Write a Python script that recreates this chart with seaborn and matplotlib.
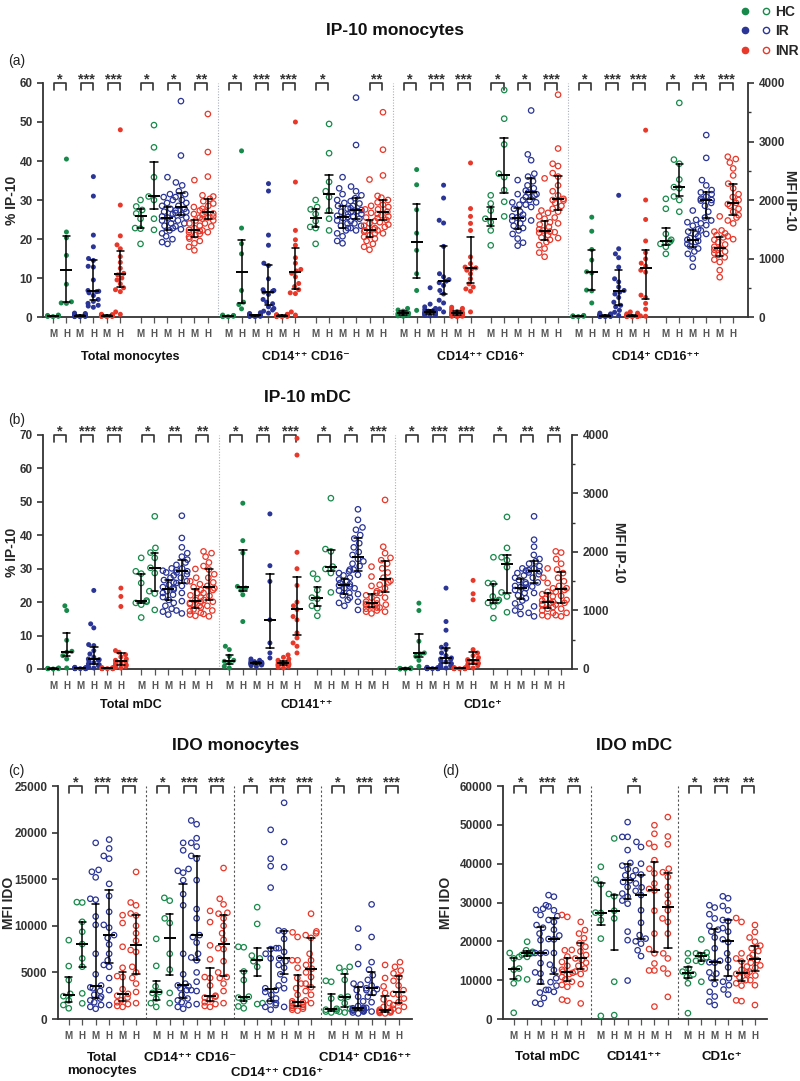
import matplotlib
matplotlib.use("Agg")
import pandas as pd
import seaborn as sns
import matplotlib.pyplot as plt
from matplotlib.lines import Line2D
from matplotlib.legend_handler import HandlerTuple
from matplotlib.ticker import MultipleLocator
from matplotlib.transforms import blended_transform_factory

GROUPS = ["HC", "IR", "INR"]
COLORS = ["#17894a", "#2a3596", "#e8382a"]
# every block below: columns HC M, HC H, IR M, IR H, INR M, INR H

# (a) IP-10 monocytes, % IP-10 (filled) and MFI IP-10 (open)
a_tot_pct = [
    [0.1, 0.2, 0.3, 0.2, 0.4, 0.3, 0.5, 0.2],
    [40.5, 21.8, 20.3, 15.8, 8.4, 3.9, 3.6, 3.5],
    [0.1, 0.2, 0.3, 0.5, 0.8, 1.0, 0.2, 0.4, 0.6, 0.3, 0.1, 0.2, 0.7, 0.4, 0.3, 0.9, 0.5, 0.2],
    [36, 31, 21, 18, 15, 14.5, 13, 12.8, 9.5, 6.6, 6.8, 6.5, 6.2, 5.5, 4.5, 4, 3.5, 3, 2.5, 2.8],
    [0.2, 0.3, 0.5, 0.4, 0.6, 0.2, 0.3, 0.1, 0.4, 0.7, 0.3, 0.2, 0.5, 0.4, 0.3, 0.2, 0.6, 0.3],
    [48, 28.7, 20.8, 18.5, 17.5, 15.5, 14, 12.5, 11.2, 10.8, 10, 9.5, 8.5, 7.5, 7, 6.5, 1.3, 0.7],
]
a_tot_mfi = [
    [2000, 1890, 1830, 1770, 1680, 1520, 1510, 1250],
    [3280, 2900, 2390, 2060, 2000, 1680, 1490],
    [2390, 2100, 2050, 2000, 1950, 1900, 1850, 1800, 1760, 1720, 1700, 1680, 1650, 1600, 1560, 1520, 1480, 1430, 1380, 1330, 1280, 1250],
    [3690, 2760, 2300, 2250, 2150, 2100, 2050, 2000, 1950, 1900, 1850, 1820, 1800, 1780, 1750, 1700, 1650, 1600, 1550, 1500],
    [2340, 1880, 1820, 1760, 1700, 1650, 1600, 1560, 1520, 1490, 1470, 1450, 1420, 1400, 1370, 1340, 1300, 1260, 1200, 1140],
    [3470, 2820, 2400, 2080, 2060, 2020, 1980, 1940, 1900, 1850, 1800, 1770, 1750, 1720, 1700, 1680, 1650, 1600, 1550, 1480, 1450],
]
a_neg_pct = [
    [0.2, 0.1, 0.3, 0.4, 0.2, 0.3, 0.1, 0.5],
    [42.6, 22.8, 18.8, 16.2, 6.8, 3.8, 3.2, 2.1],
    [0.3, 0.5, 0.8, 1.1, 0.2, 0.4, 0.6, 0.3, 0.1, 0.7, 0.9, 0.2, 0.5, 0.4, 0.3, 0.6, 0.2, 0.4],
    [34.2, 32.3, 21, 18.4, 13.8, 13.2, 9.8, 7, 6.8, 6.6, 6.4, 5.8, 4.5, 3.8, 3.4, 2.6, 2.2, 1.8, 1.5, 1.0],
    [0.2, 0.4, 0.6, 0.3, 0.1, 0.5, 0.7, 0.2, 0.3, 0.4, 0.2, 0.6, 0.3, 0.1, 0.4, 0.5, 0.2, 0.3],
    [50, 34.6, 22.2, 19.8, 18.4, 15.2, 13.8, 12.2, 11.8, 11.2, 10.3, 8.6, 7.8, 7, 6.2, 6, 1.3, 0.5],
]
a_neg_mfi = [
    [2000, 1880, 1840, 1760, 1640, 1540, 1520, 1250],
    [3300, 2800, 2310, 2150, 2050, 1820, 1680, 1480],
    [2390, 2200, 2100, 2000, 1950, 1900, 1850, 1800, 1760, 1730, 1710, 1690, 1650, 1600, 1560, 1520, 1480, 1430, 1380, 1300, 1260],
    [3750, 2940, 2230, 2150, 2080, 2030, 1980, 1940, 1900, 1860, 1830, 1810, 1790, 1760, 1720, 1680, 1640, 1600, 1560, 1520, 1480],
    [2350, 1900, 1840, 1780, 1700, 1640, 1600, 1560, 1520, 1500, 1480, 1460, 1430, 1400, 1370, 1340, 1300, 1250, 1200, 1150],
    [3500, 2860, 2420, 2070, 2040, 2000, 1960, 1920, 1880, 1840, 1800, 1760, 1740, 1720, 1690, 1660, 1620, 1580, 1540, 1480, 1430],
]
a_pos_pct = [
    [2.2, 1.8, 1.5, 1.0, 0.8, 0.5, 0.3, 0.2],
    [37.8, 33.9, 27.5, 21.5, 17.1, 11.1, 6.8, 1.7],
    [7.5, 3.3, 2.6, 2.2, 1.9, 1.7, 1.5, 1.4, 1.3, 1.2, 1.0, 0.9, 0.8, 0.7, 0.6, 0.5, 0.4, 0.3],
    [33.8, 30.5, 24.8, 24.1, 18.1, 11.1, 10.3, 9.6, 9.2, 8.8, 8.1, 6.8, 5.9, 4.3, 3.6, 2.1, 1.3],
    [2.5, 2.2, 2.0, 1.8, 1.6, 1.4, 1.2, 1.1, 1.0, 0.9, 0.8, 0.6, 0.5, 0.4, 0.3, 0.2, 0.2, 0.1],
    [39.5, 27.8, 25.8, 24.0, 22.2, 15.4, 13.7, 12.8, 12.6, 12.4, 12.0, 11.1, 9.8, 8.5, 7.7, 7.2, 6.6, 1.3],
]
a_pos_mfi = [
    [2080, 1940, 1820, 1680, 1620, 1480, 1225],
    [3880, 3390, 2950, 2450, 2390, 2170, 1970, 1720],
    [2340, 2100, 2000, 1960, 1920, 1850, 1800, 1750, 1720, 1700, 1680, 1650, 1600, 1560, 1520, 1480, 1420, 1340, 1270, 1220],
    [3530, 2780, 2680, 2450, 2400, 2320, 2250, 2200, 2160, 2130, 2100, 2080, 2050, 2000, 1960, 1920, 1880, 1650],
    [2370, 1820, 1780, 1720, 1680, 1620, 1580, 1540, 1500, 1480, 1460, 1440, 1400, 1360, 1320, 1280, 1230, 1170, 1100, 1030],
    [3800, 2880, 2620, 2580, 2460, 2400, 2250, 2150, 2080, 2020, 2000, 1990, 1950, 1900, 1850, 1800, 1700, 1600, 1450, 1350],
]
a_dim_pct = [
    [0.4, 0.3, 0.3, 0.2, 0.2, 0.1, 0.1],
    [25.6, 22, 17.3, 14.6, 11.6, 11.3, 6.9, 6.7, 3.6],
    [1.0, 0.8, 0.6, 0.5, 0.4, 0.3, 0.3, 0.2, 0.2, 0.1, 0.4, 0.6, 0.3, 0.2, 0.5, 0.1, 0.3, 0.2],
    [31.2, 17.5, 16.2, 15.2, 12.8, 9.8, 9.0, 7.7, 6.8, 6.4, 5.9, 5.0, 3.8, 3.0, 2.6, 1.7, 1.2, 0.4],
    [1.3, 1.0, 0.8, 0.5, 0.4, 0.3, 0.2, 0.2, 0.1, 0.6, 0.3, 0.4, 0.2, 0.1, 0.5, 0.3, 0.2, 0.1],
    [47.9, 30, 25, 19.5, 16.5, 14.9, 13.8, 13.1, 12.0, 11.5, 5.6, 5.0, 3.5, 2.0, 0.3, 0.2],
]
a_dim_mfi = [
    [2020, 1850, 1420, 1320, 1290, 1250, 1200, 1080],
    [3660, 2690, 2620, 2350, 2220, 2200, 2060, 2000, 1800],
    [1820, 1660, 1620, 1560, 1500, 1460, 1420, 1380, 1350, 1320, 1300, 1280, 1250, 1210, 1170, 1120, 1080, 1000, 860],
    [3110, 2720, 2340, 2250, 2170, 2130, 2100, 2060, 2020, 2000, 1990, 1950, 1900, 1800, 1700, 1650, 1600, 1570, 1480, 1420],
    [1720, 1480, 1460, 1430, 1400, 1360, 1320, 1280, 1240, 1200, 1170, 1150, 1120, 1090, 1060, 1020, 980, 940, 800, 680],
    [2740, 2700, 2640, 2540, 2420, 2280, 2200, 2100, 2050, 2000, 1950, 1930, 1900, 1850, 1800, 1740, 1700, 1650, 1600, 1380, 1330],
]

# (b) IP-10 mDC
b_tot_pct = [
    [0.3, 0.2, 0.2, 0.1, 0.1, 0.1, 0.0],
    [18.9, 17.5, 8.6, 5.3, 5.0, 4.0, 3.0, 0.3],
    [0.1, 0.2, 0.3, 0.4, 0.2, 0.1, 0.3, 0.5, 0.2, 0.1, 0.4, 0.2, 0.3, 0.1, 0.2, 0.3, 0.1, 0.2],
    [23.5, 13.5, 12.3, 7.3, 7.0, 5.5, 4.5, 3.5, 3.0, 2.8, 2.6, 2.3, 1.9, 1.5, 1.3, 1.0, 0.6, 0.3],
    [0.2, 0.1, 0.3, 0.2, 0.4, 0.1, 0.2, 0.3, 0.1, 0.2, 0.3, 0.2, 0.1, 0.4, 0.2, 0.1],
    [24.2, 21.7, 18.7, 5.5, 5.0, 4.3, 3.6, 3.0, 2.6, 2.3, 2.1, 1.8, 1.5, 1.2, 1.0, 0.8, 0.5, 0.3],
]
b_tot_mfi = [
    [1900, 1670, 1630, 1470, 1170, 1150, 1130, 1100, 880],
    [2610, 2070, 1990, 1900, 1730, 1640, 1330, 1290, 1010],
    [1720, 1680, 1650, 1600, 1560, 1520, 1480, 1440, 1400, 1380, 1360, 1330, 1300, 1270, 1230, 1180, 1130, 1080, 1030, 980, 930],
    [2620, 2240, 2080, 1980, 1920, 1870, 1820, 1780, 1720, 1690, 1670, 1650, 1620, 1560, 1500, 1470, 1420, 1300, 1160, 1000, 950],
    [1710, 1560, 1500, 1450, 1400, 1350, 1300, 1260, 1220, 1180, 1150, 1130, 1110, 1080, 1050, 1020, 990, 960, 930, 910],
    [2010, 1980, 1920, 1820, 1760, 1700, 1620, 1560, 1480, 1420, 1380, 1350, 1300, 1250, 1180, 1150, 1080, 1000, 940, 900],
]
b_141_pct = [
    [6.8, 5.8, 3.8, 2.6, 2.3, 1.8, 0.8, 0.3],
    [49.6, 38.4, 34.7, 24.7, 24.2, 23.6, 22.2, 14.2],
    [3.0, 2.6, 2.4, 2.2, 2.0, 1.9, 1.8, 1.7, 1.6, 1.5, 1.4, 1.3, 1.2, 1.0, 0.8],
    [46.4, 30.9, 26.2, 14.7, 7.8, 4.8, 3.3],
    [4.2, 3.5, 3.0, 2.6, 2.3, 2.0, 1.8, 1.6, 1.4, 1.2, 1.0, 0.8, 0.5, 0.3],
    [69, 64, 34.9, 30, 25, 20, 18.9, 17.8, 15.7, 14.7, 10.8, 9.3, 7.8, 6.8, 4.8],
]
b_141_mfi = [
    [1630, 1540, 1350, 1220, 1200, 1080, 1040, 910],
    [2920, 2050, 2010, 1750, 1710, 1640, 1310],
    [1700, 1670, 1640, 1600, 1560, 1530, 1500, 1470, 1450, 1430, 1410, 1380, 1340, 1300, 1260, 1220, 1180, 1130, 1080],
    [2730, 2550, 2420, 2380, 2290, 2230, 2150, 2080, 2000, 1950, 1880, 1840, 1800, 1760, 1700, 1610, 1380, 1280, 1150, 1010],
    [1750, 1580, 1420, 1330, 1300, 1260, 1220, 1180, 1150, 1120, 1110, 1090, 1070, 1050, 1030, 1000, 980, 950],
    [2890, 2090, 1980, 1900, 1860, 1800, 1720, 1650, 1560, 1510, 1480, 1440, 1380, 1300, 1220, 1100, 1050, 980],
]
b_1c_pct = [
    [0.3, 0.2, 0.2, 0.1, 0.1, 0.0, 0.0],
    [19.7, 17.5, 8.3, 4.8, 4.5, 3.8, 2.6, 0.8],
    [0.2, 0.1, 0.3, 0.4, 0.2, 0.1, 0.2, 0.3, 0.5, 0.1, 0.2, 0.3, 0.2, 0.1, 0.4, 0.2, 0.1, 0.3],
    [24.2, 14.2, 11.6, 7.3, 6.5, 5.8, 4.8, 4.0, 3.3, 3.0, 2.8, 2.5, 2.1, 1.6, 1.3, 1.0, 0.6, 0.3],
    [0.1, 0.2, 0.3, 0.2, 0.1, 0.4, 0.2, 0.3, 0.1, 0.2, 0.1, 0.3, 0.2, 0.1, 0.2, 0.3],
    [26.5, 22.5, 20.7, 5.8, 4.8, 4.0, 3.4, 2.8, 2.6, 2.3, 2.0, 1.7, 1.3, 1.0, 0.6, 0.3],
]
b_1c_mfi = [
    [1910, 1470, 1460, 1240, 1180, 1160, 1130, 1070, 870],
    [2600, 2070, 1910, 1860, 1740, 1310, 1240, 970],
    [1720, 1680, 1640, 1600, 1560, 1520, 1480, 1450, 1420, 1400, 1380, 1350, 1300, 1260, 1210, 1170, 1120, 1060, 1000, 940],
    [2610, 2210, 2090, 1950, 1880, 1840, 1800, 1760, 1720, 1690, 1670, 1650, 1620, 1560, 1480, 1410, 1300, 1070, 960, 900],
    [1720, 1560, 1470, 1380, 1320, 1280, 1240, 1200, 1170, 1150, 1130, 1110, 1090, 1060, 1030, 1000, 960, 920, 900],
    [2010, 1990, 1880, 1800, 1700, 1640, 1560, 1500, 1420, 1380, 1350, 1320, 1250, 1180, 1130, 1100, 1030, 960, 920, 900],
]

# (c) IDO monocytes, MFI IDO
c_tot = [
    [8460, 5680, 4180, 2700, 2450, 2000, 1500, 1150],
    [12540, 12500, 10430, 9360, 8040, 6500, 5610, 2750, 1680],
    [18900, 16000, 15800, 15200, 12900, 12800, 11000, 10100, 7000, 4800, 3600, 3400, 3300, 3000, 2600, 2400, 2200, 2000, 1800, 1500, 1300, 1100],
    [19250, 18300, 17500, 17200, 14500, 13200, 11500, 10100, 9800, 9000, 8700, 8000, 7000, 6300, 5800, 5600, 4400, 3100, 1500],
    [11140, 10300, 7750, 5500, 4600, 4500, 3200, 2700, 2500, 2300, 2000, 1800, 1600, 1400, 1300],
    [15780, 12500, 12200, 11320, 11100, 10000, 9200, 8400, 7400, 7200, 5600, 5000, 4400, 3800, 2900, 1700],
]
c_neg = [
    [8600, 5700, 3500, 2900, 2800, 2200, 1700, 1300],
    [13000, 12700, 10800, 10300, 7000, 5300, 2800, 1700],
    [18900, 18100, 16100, 15900, 15700, 14900, 13400, 12200, 7000, 4800, 3800, 3600, 3500, 3300, 3100, 2600, 2200, 2000, 1800, 1500, 1300, 1100],
    [21300, 20900, 19400, 18900, 18500, 17500, 17200, 14900, 11800, 10800, 9000, 8800, 8200, 7000, 6600, 6300, 5000, 4000, 3100, 3000, 1600],
    [11600, 10400, 7900, 6400, 4500, 4400, 3600, 2400, 2500, 2300, 2100, 1800, 1600, 1400, 1300],
    [16200, 12900, 12300, 11400, 11300, 10800, 10000, 9200, 8500, 7600, 7500, 6200, 5000, 4500, 4400, 3800, 3000, 1700],
]
c_pos = [
    [7750, 7700, 5100, 4180, 2400, 2300, 1900, 1350, 1150],
    [12000, 10200, 6800, 6500, 6200, 5600, 1700, 1600],
    [20300, 17200, 16400, 14100, 7600, 7500, 7000, 6500, 3300, 2900, 3100, 2600, 2200, 1900, 1700, 1500, 1300, 1000],
    [23200, 19000, 16300, 9500, 9400, 8600, 7600, 7200, 6500, 6200, 5800, 5500, 4800, 4200, 3600, 3300, 1300],
    [9300, 8800, 6300, 6300, 5500, 4400, 3800, 3300, 2600, 1900, 1800, 1700, 1600, 1500, 1400, 1300, 1200, 1100, 1000, 900],
    [11300, 9400, 9200, 9000, 8700, 7000, 6300, 5800, 5400, 5000, 4500, 3800, 3400, 3000, 2600, 2000, 1700],
]
c_dim = [
    [4100, 4000, 2200, 1100, 1000, 900, 800, 700],
    [5600, 5500, 5100, 4200, 2400, 2300, 1700, 1100, 800, 700],
    [9700, 7700, 5900, 3800, 3700, 3100, 2400, 1900, 1400, 1200, 1150, 1100, 1000, 950, 900, 850, 800, 700, 600],
    [12300, 8800, 6100, 5300, 4700, 4200, 3600, 3300, 3200, 3100, 2800, 2400, 1800, 1200, 800],
    [5800, 4400, 3500, 2800, 2100, 1700, 1300, 1000, 900, 850, 800, 750, 700, 650, 600],
    [6100, 5600, 5200, 4900, 4500, 4100, 3600, 3100, 2700, 2600, 2200, 1800, 1500, 1300, 1100, 900],
]

# (d) IDO mDC, MFI IDO
d_tot = [
    [17000, 16000, 15600, 13000, 12700, 10500, 9200, 1600],
    [19900, 17700, 17300, 17000, 16500, 16000, 10200],
    [29300, 28400, 28100, 26800, 24200, 23500, 22000, 20300, 17100, 17000, 16900, 14400, 12000, 11700, 9600, 7500, 6800, 5400, 4200, 3900],
    [31900, 31500, 29000, 28000, 26500, 25500, 25000, 23000, 21500, 20600, 20500, 17000, 14000, 12600, 10500, 9500, 8600, 7500, 7000],
    [26800, 26300, 17800, 17700, 16100, 14700, 13700, 12700, 12200, 11900, 11600, 10800, 10200, 9600, 8800, 8300, 5000, 4700],
    [25000, 22900, 22000, 20800, 19500, 18600, 17400, 16500, 15600, 15200, 14500, 13700, 13000, 12200, 11600, 9000, 4000],
]
d_141 = [
    [39200, 35900, 34700, 27400, 27300, 25500, 20700, 800],
    [46500, 32200, 31600, 27900, 25900, 9600, 1000],
    [50700, 46900, 46900, 43500, 40200, 39500, 38600, 37000, 36800, 35700, 35300, 34000, 32300, 31500, 30500, 29700, 22500, 20300, 9900],
    [45600, 44300, 40000, 38300, 37200, 34900, 33900, 33000, 31900, 28000, 24800, 21600, 20700, 20000, 19400, 17700, 16200],
    [49900, 47700, 45200, 44300, 40900, 38700, 37500, 34900, 33500, 33100, 27900, 22000, 18000, 16900, 14300, 12500, 12500, 3200],
    [52000, 47000, 45000, 38700, 37800, 36600, 34000, 31900, 29900, 28000, 25900, 25000, 22000, 16900, 15600, 13000, 11700, 5700],
]
d_1c = [
    [16900, 15000, 13000, 12200, 11500, 10900, 9200, 1500],
    [20500, 17100, 16900, 16500, 15900, 15000, 14700, 9600],
    [29300, 28700, 27000, 25900, 24000, 23000, 22500, 21000, 18200, 15000, 14600, 14500, 12000, 11700, 10500, 9000, 7000, 5800, 4500, 3600],
    [31600, 31100, 29100, 28000, 25500, 25200, 23400, 22500, 20500, 19800, 16900, 15200, 13300, 10500, 9600, 8700, 7600, 6300],
    [26000, 25000, 16900, 15600, 14800, 13500, 12700, 12000, 11600, 11500, 10800, 10000, 9200, 8600, 4800, 4600],
    [24200, 22400, 21000, 19900, 18900, 18200, 17500, 16500, 15800, 15200, 14500, 13800, 13200, 12200, 11200, 10000, 8700, 3600],
]

# significance marks per block (HC, IR, INR pair)
a_stars = [["*", "***", "***"], ["*", "*", "**"], ["*", "***", "***"], ["*", "", "**"],
           ["*", "***", "***"], ["*", "*", "***"], ["*", "***", "***"], ["*", "**", "***"]]
b_stars = [["*", "***", "***"], ["*", "**", "**"], ["*", "**", "***"], ["*", "*", "***"],
           ["*", "***", "***"], ["*", "**", "**"]]
c_stars = [["*", "***", "***"], ["*", "***", "***"], ["*", "***", "***"], ["*", "***", "***"]]
d_stars = [["*", "***", "**"], ["", "*", ""], ["*", "***", "**"]]

a_labels = ["Total monocytes", "CD14⁺⁺ CD16⁻", "CD14⁺⁺ CD16⁺", "CD14⁺ CD16⁺⁺"]
b_labels = ["Total mDC", "CD141⁺⁺", "CD1c⁺"]
c_labels = ["Total\nmonocytes", "CD14⁺⁺ CD16⁻", "CD14⁺⁺ CD16⁺", "CD14⁺ CD16⁺⁺"]
d_labels = ["Total mDC", "CD141⁺⁺", "CD1c⁺"]

sns.set_style("ticks")
plt.rcParams["font.family"] = ["Liberation Sans", "DejaVu Sans"]
plt.rcParams["font.weight"] = "bold"
plt.rcParams["axes.labelweight"] = "bold"

INK = "#333333"
PAL = dict(zip(GROUPS, COLORS))
STEP = 6.5


def to_frame(blocks, slots):
    rows = []
    for slot, block in zip(slots, blocks):
        for j, vals in enumerate(block):
            for v in vals:
                rows.append((STEP * slot + j, v, GROUPS[j // 2]))
    return pd.DataFrame(rows, columns=["pos", "value", "group"])


def dots(ax, df, hollow):
    n0 = len(ax.collections)
    sns.swarmplot(data=df, x="pos", y="value", hue="group", hue_order=GROUPS,
                  palette=PAL, native_scale=True, orient="x",
                  size=3.9 if hollow else 3.6, linewidth=0, legend=False,
                  warn_thresh=1, clip_on=False, ax=ax)
    if hollow:
        for c in ax.collections[n0:]:
            c.set_edgecolor(c.get_facecolor())
            c.set_facecolor("none")
            c.set_linewidth(0.9)
    sns.pointplot(data=df, x="pos", y="value", estimator="median",
                  errorbar=("pi", 50), native_scale=True, orient="x",
                  color="black", capsize=0.55, linestyle="none", marker="_",
                  markersize=9, markeredgewidth=1.4,
                  err_kws={"linewidth": 1.1, "zorder": 6}, zorder=6, ax=ax)
    ax.set_xlabel("")
    ax.set_ylabel("")


def frame_axis(ax, nslots, xlim, ylim, ystep):
    pos = [STEP * s + j for s in range(nslots) for j in range(6)]
    ax.set_xticks(pos, ["M", "H"] * (3 * nslots))
    ax.set_xlim(*xlim)
    ax.set_ylim(*ylim)
    ax.yaxis.set_major_locator(MultipleLocator(ystep))
    for side in ["top", "right"]:
        ax.spines[side].set_visible(False)
    for side in ["left", "bottom"]:
        ax.spines[side].set_color(INK)
        ax.spines[side].set_linewidth(1.3)
    ax.tick_params(axis="x", length=4.5, width=0.9, pad=4, labelsize=7,
                   colors="#555555")
    ax.tick_params(axis="y", length=4, width=1.2, labelsize=8.5, colors=INK)


def right_axis(ax2, ylim):
    ax2.set_ylim(*ylim)
    ax2.yaxis.set_major_locator(MultipleLocator(1000))
    ax2.yaxis.set_minor_locator(MultipleLocator(500))
    for side in ["top", "left", "bottom"]:
        ax2.spines[side].set_visible(False)
    ax2.spines["right"].set_color(INK)
    ax2.spines["right"].set_linewidth(1.3)
    ax2.tick_params(axis="y", which="major", length=4, width=1.2,
                    labelsize=8.5, colors=INK)
    ax2.tick_params(axis="y", which="minor", length=2.5, width=1.0, colors=INK)
    ax2.grid(False)


def brackets(ax, stars):
    tr = blended_transform_factory(ax.transData, ax.transAxes)
    for slot, marks in enumerate(stars):
        for k, s in enumerate(marks):
            if not s:
                continue
            x0 = STEP * slot + 2 * k + 0.05
            x1 = x0 + 0.9
            ax.plot([x0, x0, x1, x1], [0.97, 1.0, 1.0, 0.97], transform=tr,
                    color=INK, lw=1.2, clip_on=False)
            ax.text((x0 + x1) / 2, 1.0, s, transform=tr, ha="center",
                    va="baseline", fontsize=10.5, color=INK)


def separators(ax, xs, color, dash):
    for x in xs:
        ax.axvline(x, color=color, lw=0.8, ls=dash, zorder=0)


def group_labels(ax, labels, centers, ys, size):
    tr = blended_transform_factory(ax.transData, ax.transAxes)
    for lab, x, y in zip(labels, centers, ys):
        ax.text(x, y, lab, transform=tr, ha="center", va="center",
                fontsize=size, color="#111111", linespacing=1.05)


fig = plt.figure(figsize=(8, 10.81), dpi=100)
fig.patch.set_facecolor("white")

# ---- (a)
ax = fig.add_axes([0.05375, 0.70675, 0.88125, 0.21647])
ax2 = ax.twinx()
pct = [a_tot_pct, a_neg_pct, a_pos_pct, a_dim_pct]
mfi = [a_tot_mfi, a_neg_mfi, a_pos_mfi, a_dim_mfi]
dots(ax, to_frame(pct, [0, 2, 4, 6]), hollow=False)
dots(ax2, to_frame(mfi, [1, 3, 5, 7]), hollow=True)
frame_axis(ax, 8, (-0.74, 51.6), (0, 60), 10)
right_axis(ax2, (0, 4000))
ax.set_ylabel("% IP-10", fontsize=10)
ax.yaxis.set_label_coords(-0.034, 0.5)
ax2.set_ylabel("MFI IP-10", fontsize=10, rotation=270, labelpad=9)
separators(ax, [13 * i - 0.75 for i in (1, 2, 3)], "#aab0bb", (0, (1, 1.5)))
brackets(ax, a_stars)
group_labels(ax, a_labels, [13 * i + 5.75 for i in range(4)], [-0.171] * 4, 9)

# ---- (b)
ax = fig.add_axes([0.05375, 0.38113, 0.66125, 0.21647])
ax2 = ax.twinx()
pct = [b_tot_pct, b_141_pct, b_1c_pct]
mfi = [b_tot_mfi, b_141_mfi, b_1c_mfi]
dots(ax, to_frame(pct, [0, 2, 4]), hollow=False)
dots(ax2, to_frame(mfi, [1, 3, 5]), hollow=True)
frame_axis(ax, 6, (-0.75, 38.3), (0, 70), 10)
right_axis(ax2, (0, 4000))
ax.set_ylabel("% IP-10", fontsize=10)
ax.yaxis.set_label_coords(-0.046, 0.5)
ax2.set_ylabel("MFI IP-10", fontsize=10, rotation=270, labelpad=12)
separators(ax, [13 * i - 0.75 for i in (1, 2)], "#aab0bb", (0, (1, 1.5)))
brackets(ax, b_stars)
group_labels(ax, b_labels, [13 * i + 5.75 for i in range(3)], [-0.154] * 3, 9)

# ---- (c)
ax = fig.add_axes([0.0725, 0.05735, 0.4425, 0.21554])
dots(ax, to_frame([c_tot, c_neg, c_pos, c_dim], [0, 1, 2, 3]), hollow=True)
frame_axis(ax, 4, (-0.8, 25.5), (0, 25000), 5000)
ax.set_ylabel("MFI IDO", fontsize=10)
ax.yaxis.set_label_coords(-0.118, 0.5)
separators(ax, [STEP * i - 0.75 for i in (1, 2, 3)], "#555555", (0, (2, 2)))
brackets(ax, c_stars)
group_labels(ax, c_labels, [STEP * i + 2.5 for i in range(4)],
             [-0.195, -0.167, -0.232, -0.167], 9.5)

# ---- (d)
ax = fig.add_axes([0.62875, 0.05735, 0.33, 0.21554])
dots(ax, to_frame([d_tot, d_141, d_1c], [0, 1, 2]), hollow=True)
frame_axis(ax, 3, (-0.8, 18.9), (0, 60000), 10000)
ax.set_ylabel("MFI IDO", fontsize=10)
ax.yaxis.set_label_coords(-0.19, 0.5)
separators(ax, [STEP * i - 0.75 for i in (1, 2)], "#555555", (0, (2, 2)))
brackets(ax, d_stars)
group_labels(ax, d_labels, [STEP * i + 2.5 for i in range(3)], [-0.163] * 3, 9.5)

# titles and panel letters
for x, y, t in [(0.494, 0.9722, "IP-10 monocytes"), (0.384, 0.6327, "IP-10 mDC"),
                (0.295, 0.3108, "IDO monocytes"), (0.7925, 0.3108, "IDO mDC")]:
    fig.text(x, y, t, ha="center", va="center", fontsize=12.5, color="#111111")
for x, y, t in [(0.01, 0.9436, "(a)"), (0.01, 0.6115, "(b)"),
                (0.01, 0.2868, "(c)"), (0.5525, 0.2868, "(d)")]:
    fig.text(x, y, t, ha="left", va="center", fontsize=10, fontweight="normal",
             color="#222222")

handles = []
for c in COLORS:
    full = Line2D([], [], ls="", marker="o", markersize=4.5, color=c)
    hollow = Line2D([], [], ls="", marker="o", markersize=4.5,
                    markerfacecolor="none", markeredgecolor=c, markeredgewidth=1)
    handles.append((full, hollow))
fig.legend(handles, GROUPS, handler_map={tuple: HandlerTuple(ndivide=None, pad=0.9)},
           loc="upper right", bbox_to_anchor=(1.0, 0.997), frameon=False,
           fontsize=10, handlelength=2.0, handletextpad=0.4, labelspacing=0.4,
           borderpad=0.1, borderaxespad=0)

fig.savefig("out.png", dpi=100)
